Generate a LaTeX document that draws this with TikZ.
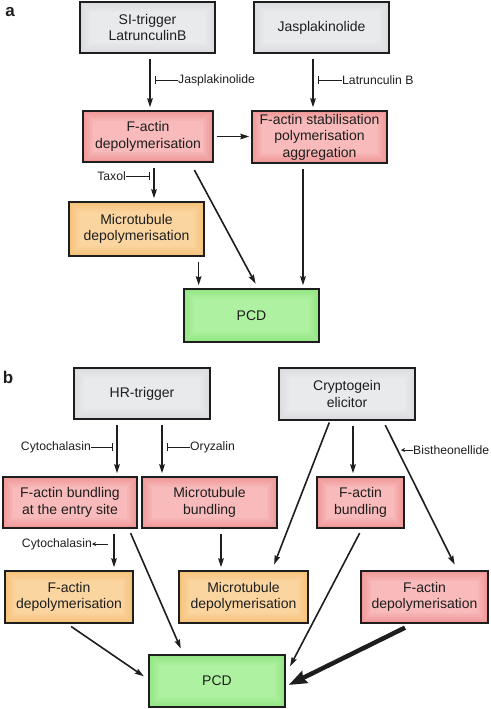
\documentclass[tikz,border=0pt]{standalone}
\usepackage{fontspec}
\setmainfont{Liberation Sans}
\usetikzlibrary{arrows.meta,calc}
\definecolor{grayE}{RGB}{219,220,223}
\definecolor{grayC}{RGB}{233,234,236}
\definecolor{pinkE}{RGB}{240,152,152}
\definecolor{pinkC}{RGB}{248,186,186}
\definecolor{orangeE}{RGB}{245,194,122}
\definecolor{orangeC}{RGB}{251,213,160}
\definecolor{greenE}{RGB}{148,230,132}
\definecolor{greenC}{RGB}{174,241,160}
\definecolor{ink}{RGB}{30,30,30}
\begin{document}
\begin{tikzpicture}[x=1pt,y=-1pt,
  box/.style={draw=ink,line width=1.3pt,align=center,inner sep=0pt,
    font=\fontsize{14}{16.5}\selectfont,text=ink},
  glow/.style 2 args={box,fill=#1,
    path picture={
      \foreach \i/\p in {2/20,4/40,6/60,8/80,10/100}{
        \fill[#2!\p!#1] ($(path picture bounding box.south west)+(\i,-\i)$)
          rectangle ($(path picture bounding box.north east)+(-\i,\i)$);}}},
  gray/.style={glow={grayE}{grayC}},
  pink/.style={glow={pinkE}{pinkC}},
  orange/.style={glow={orangeE}{orangeC}},
  green/.style={glow={greenE}{greenC}},
  arr/.style={draw=ink,line width=1.6pt,-{Stealth[length=9pt,width=5.5pt,inset=1pt]},shorten <=5pt,shorten >=3pt},
  thickarr/.style={draw=ink,line width=4.5pt,-{Stealth[length=18pt,width=13pt,inset=2pt]}},
  inh/.style={draw=ink,line width=0.9pt,-{Bar[width=8pt]}},
  smallarr/.style={draw=ink,line width=0.9pt,-{Stealth[length=4pt,width=4pt]}},
  lbl/.style={font=\fontsize{12.2}{13}\selectfont,text=ink,inner sep=0pt},
  panel/.style={font=\fontsize{17}{17}\bfseries\selectfont,text=ink,inner sep=0pt}
]
\useasboundingbox (0,0) rectangle (490,709);

% ---------- panel a ----------
\node[panel] (la) at (10,12) {a};
\node[gray,minimum width=135pt,minimum height=51pt] (si) at (147.5,27.5) {SI-trigger\\LatrunculinB};
\node[gray,minimum width=135pt,minimum height=51pt] (jas) at (321.5,27.5) {Jasplakinolide};
\node[pink,minimum width=130pt,minimum height=51pt] (dep) at (148,136.5) {F-actin\\depolymerisation};
\node[pink,minimum width=135pt,minimum height=52pt] (stab) at (319.5,137) {F-actin stabilisation\\polymerisation\\aggregation};
\node[orange,minimum width=135pt,minimum height=54pt] (mtd) at (136.5,229) {Microtubule\\depolymerisation};
\node[green,minimum width=135pt,minimum height=53pt] (pcda) at (251.5,315.5) {PCD};

\draw[arr] ($(si.south)+(2.5,0)$) -- ($(si.south |- dep.north)+(2.5,0)$);
\draw[arr] ($(jas.south)+(-8.5,0)$) -- ($(jas.south |- stab.north)+(-8.5,0)$);
\draw[arr,shorten <=3pt,shorten >=2pt] (dep.east) -- (dep.east -| stab.west);
\draw[arr] ($(dep.south)+(6,0)$) -- ($(dep.south |- mtd.north)+(6,0)$);
\draw[arr] ($(mtd.south east)+(-6,0)$) -- ($(mtd.south east |- pcda.north)+(-6,0)$);
\draw[arr] ($(dep.south)+(44,3)$) -- ($(pcda.north)+(5.5,-2)$);
\draw[arr] ($(stab.south)+(-16.5,0)$) -- ($(stab.south |- pcda.north)+(-16.5,0)$);

\node[lbl,anchor=west] (ljas) at (178,80) {Jasplakinolide};
\coordinate (bjas) at (155,80);
\draw[inh] (ljas.west) -- (bjas);
\node[lbl,anchor=west] (llat) at (342,80) {Latrunculin B};
\coordinate (blat) at (318,80);
\draw[inh] (llat.west) -- (blat);
\node[lbl,anchor=east] (ltax) at (126,176) {Taxol};
\coordinate (btax) at (150,176);
\draw[inh] (ltax.east) -- (btax);

% ---------- panel b ----------
\node[panel] (lb) at (8,377) {b};
\node[gray,minimum width=136pt,minimum height=51pt] (hr) at (142,393.5) {HR-trigger};
\node[gray,minimum width=136pt,minimum height=52pt] (cry) at (347,394) {Cryptogein\\elicitor};
\node[pink,minimum width=134pt,minimum height=51pt] (fbe) at (70,502.5) {F-actin bundling\\at the entry site};
\node[pink,minimum width=135pt,minimum height=51pt] (mtb) at (209.5,502.5) {Microtubule\\bundling};
\node[pink,minimum width=87pt,minimum height=51pt] (fb) at (360.5,502.5) {F-actin\\bundling};
\node[orange,minimum width=128pt,minimum height=52pt] (fdl) at (69,597) {F-actin\\depolymerisation};
\node[orange,minimum width=129pt,minimum height=52pt] (mtdb) at (243.5,597) {Microtubule\\depolymerisation};
\node[pink,minimum width=127pt,minimum height=52pt] (fdr) at (424.5,597) {F-actin\\depolymerisation};
\node[green,minimum width=136pt,minimum height=52pt] (pcdb) at (217,681) {PCD};

\draw[arr] ($(hr.south)+(-25,0)$) -- ($(hr.south |- fbe.north)+(-25,0)$);
\draw[arr] ($(hr.south)+(20,0)$) -- ($(hr.south |- mtb.north)+(20,0)$);
\draw[arr,shorten <=2pt] ($(cry.south)+(-17,0)$) -- ($(mtdb.north)+(29.5,-3)$);
\draw[arr] ($(cry.south)+(6,0)$) -- ($(cry.south |- fb.north)+(6,0)$);
\draw[arr] ($(cry.south)+(36,0)$) -- ($(fdr.north)+(31.5,-3)$);
\draw[arr] ($(fbe.south)+(44,0)$) -- ($(fbe.south |- fdl.north)+(44,0)$);
\draw[arr] ($(fbe.south east)+(-9,0)$) -- ($(pcdb.north)+(-35,-3)$);
\draw[arr] ($(mtb.south)+(11.5,0)$) -- ($(mtb.south |- mtdb.north)+(11.5,0)$);
\draw[arr] ($(fb.south)+(1.5,0)$) -- ($(pcdb.east)+(3,-12)$);
\draw[arr] ($(fdl.south)+(-2,0)$) -- ($(pcdb.west)+(-2,-3)$);
\draw[thickarr] ($(fdr.south)+(-19.5,4)$) -- ($(pcdb.east)+(3,4)$);

\node[lbl,anchor=east] (lcy1) at (91,447) {Cytochalasin};
\coordinate (bcy1) at (113,447);
\draw[inh] (lcy1.east) -- (bcy1);
\node[lbl,anchor=west] (lory) at (190,447) {Oryzalin};
\coordinate (bory) at (167,447);
\draw[inh] (lory.west) -- (bory);
\node[lbl,anchor=west] (lbis) at (413,450) {Bistheonellide};
\coordinate (abis) at (401,450);
\draw[smallarr] (lbis.west) -- (abis);
\node[lbl,anchor=east] (lcy2) at (92,544) {Cytochalasin};
\coordinate (acy2) at (108,544);
\draw[smallarr] (acy2) -- (lcy2.east);
\end{tikzpicture}
\end{document}
